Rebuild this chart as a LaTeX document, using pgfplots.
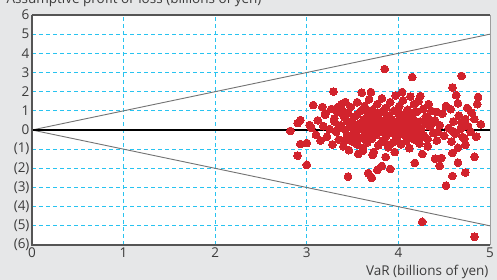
\documentclass[border=0pt]{standalone}
\usepackage{pgfplots}
\pgfplotsset{compat=1.18}
\usepackage{fontspec}
\setmainfont{Open Sans}
\definecolor{bgg}{RGB}{230,231,232}
\definecolor{dotred}{RGB}{210,35,45}
\definecolor{gridc}{RGB}{40,195,240}
\definecolor{lineg}{RGB}{115,115,115}
\definecolor{axg}{RGB}{85,85,85}
\definecolor{txt}{RGB}{60,60,60}
\begin{document}
\begin{tikzpicture}
\useasboundingbox (-32pt,-35pt) rectangle (465pt,245pt);
\clip (-32pt,-35pt) rectangle (465pt,245pt);
\fill[bgg] (-32pt,-35pt) rectangle (465pt,245pt);
\begin{axis}[
  at={(0,0)}, anchor=south west,
  scale only axis, width=458pt, height=230pt,
  xmin=0, xmax=5, ymin=-6, ymax=6,
  xtick={0,1,2,3,4,5}, ytick={-6,-5,-4,-3,-2,-1,0,1,2,3,4,5,6},
  yticklabels={(6),(5),(4),(3),(2),(1),0,1,2,3,4,5,6},
  tick style={draw=none},
  /pgf/number format/assume math mode=true,
  ticklabel style={font=\fontsize{13.5}{15}\selectfont, text=txt},
  yticklabel style={xshift=1pt},
  xticklabel style={yshift=1pt},
  axis background/.style={fill=white},
  axis line style={draw=none},
  grid=major,
  major grid style={gridc, line width=0.7pt, dash pattern=on 4pt off 3pt},
  clip=false,
]
\addplot[lineg, line width=0.9pt] coordinates {(0,0) (5,5)};
\addplot[lineg, line width=0.9pt] coordinates {(0,0) (5,-5)};
\addplot[black, line width=1.2pt] coordinates {(0,0) (5,0)};
\draw[lineg!70, line width=0.8pt] (axis cs:5,-6) -- (axis cs:5,6);
\draw[axg, line width=1.5pt] (axis cs:0,6) -- (axis cs:5,6);
\draw[axg, line width=1.5pt] (axis cs:0,6) -- (axis cs:0,-6) -- (axis cs:5,-6);
\addplot[only marks, mark=*, mark size=3.9pt, draw=dotred, fill=dotred, mark options={draw=dotred, fill=dotred, line width=0pt}] coordinates {
(3.85,3.18) (4.15,2.76) (4.69,2.82) (3.29,2.0) (3.60,1.95) (3.70,1.98) (4.04,1.98)
(4.59,2.22) (4.63,1.82) (4.87,1.72) (4.86,1.35) (4.65,1.4) (4.24,1.77) (4.33,1.35)
(4.57,1.09) (4.75,1.15) (4.42,0.94) (4.73,0.57) (4.83,0.57) (4.69,0.36) (4.32,0.68) (4.37,0.36)
(3.07,1.3) (3.17,1.2) (3.20,0.88) (2.93,0.52) (2.90,0.36) (3.03,0.26) (2.82,-0.05)
(3.34,1.2) (3.42,1.46) (3.38,0.88)
(2.93,-0.73) (3.0,-0.68) (2.90,-1.34) (3.0,-1.82) (3.45,-2.43)
(4.26,-4.79) (4.83,-5.57)
(4.52,-2.9) (4.59,-2.4) (4.73,-2.22) (4.83,-1.4) (4.65,-1.7) (4.45,-1.87) (4.40,-1.5) (4.47,-1.46)
(4.59,-1.2) (4.65,-0.93) (4.73,-0.78) (4.70,-0.36) (4.79,-0.1) (4.59,-0.05) (4.43,-0.1) (4.32,-0.47) (4.26,-1.25)
(3.67,-2.25) (3.71,-2.5) (3.77,-2.08) (3.82,-1.88) (3.91,-2.03) (3.72,-1.3) (3.86,-1.41)
(3.61,-1.09) (3.56,-1.25) (3.96,-1.15) (4.18,-1.72)
(3.05,0.1) (3.1,-0.25) (3.12,0.5) (3.15,-0.55) (3.18,0.2) (3.2,0.8) (3.22,-0.35) (3.25,0.05)
(3.27,1.1) (3.28,-0.75) (3.3,0.45) (3.32,-0.1) (3.33,0.95) (3.35,-0.5) (3.37,0.25) (3.38,1.35)
(3.4,-0.85) (3.41,0.65) (3.42,0.0) (3.44,-0.3) (3.45,0.9) (3.46,-1.05) (3.47,0.35) (3.48,1.2)
(3.5,-0.6) (3.5,0.1) (3.52,0.7) (3.53,-0.15) (3.55,1.45) (3.55,-0.75) (3.56,0.3) (3.58,-0.4)
(3.59,1.0) (3.6,0.05) (3.61,-0.95) (3.62,0.55) (3.63,1.25) (3.64,-0.2) (3.65,0.2) (3.66,-0.65)
(3.67,0.8) (3.68,1.6) (3.69,-0.05) (3.7,0.4) (3.71,-0.45) (3.72,1.05) (3.73,-1.15) (3.74,0.15)
(3.75,0.6) (3.76,-0.25) (3.77,1.35) (3.78,-0.8) (3.79,0.3) (3.8,0.9) (3.81,-0.1) (3.82,1.65)
(3.83,-0.55) (3.84,0.45) (3.85,0.0) (3.86,1.15) (3.87,-0.3) (3.88,0.75) (3.89,-0.9) (3.9,0.25)
(3.91,1.45) (3.92,-0.15) (3.93,0.55) (3.94,-0.65) (3.95,1.0) (3.96,0.1) (3.97,1.8) (3.98,-0.45)
(3.99,0.4) (4.0,-0.05) (4.01,1.25) (4.02,0.65) (4.03,-0.75) (4.04,0.2) (4.05,1.55) (4.06,-0.25)
(4.07,0.8) (4.08,0.0) (4.09,-0.55) (4.1,1.05) (4.11,0.35) (4.12,-0.95) (4.13,1.75) (4.14,0.1)
(4.15,-0.2) (4.16,0.6) (4.17,1.35) (4.18,-0.5) (4.19,0.3) (4.2,0.95) (4.21,-0.1) (4.22,1.5)
(4.23,-0.7) (4.24,0.45) (4.25,0.05) (4.27,1.1) (4.28,-0.3) (4.3,0.7) (4.32,-0.85) (4.34,0.2)
(4.36,1.0) (4.38,-0.15) (4.4,0.5) (4.42,-0.55) (4.45,0.25) (4.48,0.85) (4.5,-0.3) (4.52,1.25)
(4.55,0.1) (4.58,-0.6) (4.6,0.45) (4.62,-0.2) (4.66,0.75) (4.68,0.05) (4.72,-0.45) (4.76,0.2)
(4.8,0.9) (4.85,-0.35) (4.9,0.3)
(3.3,0.6) (3.35,0.15) (3.4,0.95) (3.45,0.45) (3.5,-0.3) (3.55,0.8) (3.6,0.35) (3.65,1.0)
(3.7,-0.2) (3.75,0.35) (3.8,0.5) (3.85,-0.6) (3.9,0.65) (3.95,-0.2) (4.0,0.85) (4.05,0.45)
(4.1,-0.3) (4.15,0.85) (4.2,0.15) (4.25,-0.4) (4.3,0.35) (3.62,-0.45) (3.72,0.7) (3.82,0.2)
(3.92,0.05) (4.02,0.3) (4.12,0.55) (3.52,0.25) (3.42,-0.55) (3.98,1.0)
};
\node[anchor=base east, font=\fontsize{13.5}{15}\selectfont, text=txt] at (rel axis cs:1,0) [xshift=2pt, yshift=-31pt] {VaR (billions of yen)};
\node[anchor=base east, font=\fontsize{13.5}{15}\selectfont, text=txt] at (rel axis cs:0,1) [xshift=233pt, yshift=11pt] {Assumptive profit or loss (billions of yen)};
\end{axis}
\end{tikzpicture}
\end{document}
